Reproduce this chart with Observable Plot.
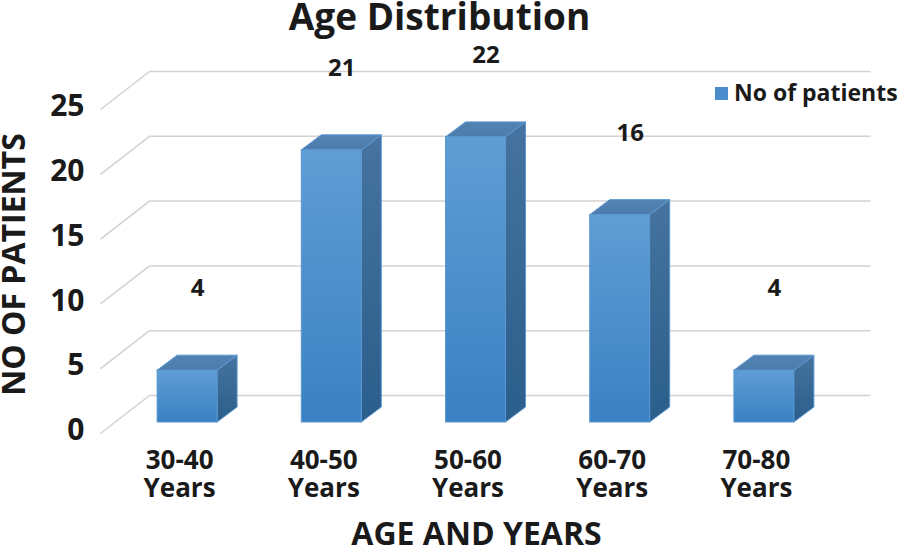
<!DOCTYPE html>
<html>
<head>
<meta charset="utf-8">
<script src="https://cdn.jsdelivr.net/npm/d3@7"></script>
<script src="https://cdn.jsdelivr.net/npm/@observablehq/plot@0.6"></script>
<style>
  html, body { margin: 0; padding: 0; background: #fff; }
  #wrap { position: relative; width: 904px; height: 548px; overflow: hidden; }
  #legend { position: absolute; left: 715px; top: 76px; display: flex; align-items: center;
    font-family: "Open Sans", sans-serif; font-weight: 700; font-size: 23px; color: #1a1a1a; white-space: nowrap; }
  #legend .sw { width: 13px; height: 13px; background: #4a8ccc; margin-right: 6px; margin-top: 2px; }
</style>
</head>
<body>
<div id="wrap">
  <div id="chart"></div>
  <div id="legend"><span class="sw"></span><span>No of patients</span></div>
</div>
<script>
// ---- data ----
const categories = ["30-40 Years", "40-50 Years", "50-60 Years", "60-70 Years", "70-80 Years"];
const values = [4, 21, 22, 16, 4];
const yTicks = [0, 5, 10, 15, 20, 25];
const seriesName = "No of patients";
const title = "Age Distribution";
const xTitle = "AGE AND YEARS";
const yTitle = "NO OF PATIENTS";

// ---- geometry (styling constants) ----
const W = 904, H = 548;
const xRange = [100, 821], yRange = [433, 109];
const pxX = (xRange[1] - xRange[0]) / categories.length;
const pxY = (yRange[0] - yRange[1]) / 25;
const ox = 15 / pxX, oy = 11 / pxY;       // bar offset from front plane
const bw = 60 / pxX;                       // bar width
const ddx = 20 / pxX, ddy = 15 / pxY;      // bar depth
const wx = 49 / pxX, wy = 38 / pxY;        // wall depth

const FRONT = "#4a8cca", SIDE = "#3a6a99", TOP = "#4f80b0", EDGE = "#5b98d0";

const bars = values.map((v, i) => ({
  i, v,
  xl: i + 0.5 + ox - bw / 2,
  xr: i + 0.5 + ox + bw / 2,
  y0: oy, y1: v + oy
}));
const sidePts = bars.flatMap(b => [
  {i: b.i, x: b.xr, lo: b.y0, hi: b.y1},
  {i: b.i, x: b.xr + ddx, lo: b.y0 + ddy, hi: b.y1 + ddy}
]);
const topPts = bars.flatMap(b => [
  {i: b.i, y: b.y1, l: b.xl, r: b.xr},
  {i: b.i, y: b.y1 + ddy, l: b.xl + ddx, r: b.xr + ddx}
]);

const font = "Open Sans, sans-serif";
const ink = "#1a1a1a";

const svg = Plot.plot({
  width: W, height: H,
  marginTop: 0, marginRight: 0, marginBottom: 0, marginLeft: 0,
  style: {background: "#fff", fontFamily: font},
  x: {domain: [0, categories.length], range: xRange, axis: null},
  y: {domain: [0, 25], range: yRange, axis: null},
  marks: [
    // floor/wall diagonals
    Plot.link(yTicks, {x1: 0, y1: d => d, x2: wx, y2: d => d + wy, stroke: "#d2d2d2", strokeWidth: 1.5}),
    // back wall gridlines
    Plot.link(yTicks, {x1: wx, y1: d => d + wy, x2: categories.length + wx, y2: d => d + wy, stroke: "#d2d2d2", strokeWidth: 1.5}),
    // bars: side, top, front
    Plot.area(sidePts, {x1: "x", y1: "lo", y2: "hi", z: "i", fill: SIDE, stroke: EDGE, strokeWidth: 1}),
    Plot.area(topPts, {y1: "y", x1: "l", x2: "r", z: "i", fill: TOP, stroke: EDGE, strokeWidth: 1}),
    Plot.rect(bars, {x1: "xl", x2: "xr", y1: "y0", y2: "y1", fill: FRONT, stroke: EDGE, strokeWidth: 1, inset: 0}),
    // value labels
    Plot.text(values, {x: (d, i) => i + 0.5 + ox + 10 / pxX, y: d => d + 7.2, text: d => String(d),
      fontSize: 24, fontWeight: 700, fill: ink}),
    // y tick labels
    Plot.text(yTicks, {frameAnchor: "left", y: d => d, text: d => String(d), textAnchor: "end",
      dx: 84, dy: -3, fontSize: 30, fontWeight: 700, fill: ink}),
    // category labels
    Plot.text(categories, {x: (d, i) => i + 0.5 + ox - 8 / pxX, frameAnchor: "bottom", dy: -99,
      text: d => d.replace(" ", "\n"), lineAnchor: "top", lineHeight: 1.06,
      fontSize: 26, fontWeight: 700, fill: ink}),
    // titles
    Plot.text([title], {frameAnchor: "top", dx: -13, dy: 3, lineAnchor: "top", fontSize: 37, fontWeight: 700, fill: ink}),
    Plot.text([xTitle], {frameAnchor: "bottom", dx: 24, dy: -4, lineAnchor: "bottom", fontSize: 32, fontWeight: 700, fill: ink}),
    Plot.text([yTitle], {frameAnchor: "left", rotate: -90, textAnchor: "middle", dx: 14, dy: -10, fontSize: 32, fontWeight: 700, fill: ink})
  ]
});

// gradients
const ns = "http://www.w3.org/2000/svg";
const defs = document.createElementNS(ns, "defs");
function grad(id, c0, c1) {
  const g = document.createElementNS(ns, "linearGradient");
  g.setAttribute("id", id); g.setAttribute("x1", 0); g.setAttribute("y1", 0); g.setAttribute("x2", 0); g.setAttribute("y2", 1);
  [[0, c0], [1, c1]].forEach(([o, c]) => {
    const s = document.createElementNS(ns, "stop");
    s.setAttribute("offset", o); s.setAttribute("stop-color", c);
    g.appendChild(s);
  });
  defs.appendChild(g);
}
grad("gFront", "#5f9dd4", "#3a81c3");
grad("gSide", "#46739f", "#2b5e8b");
grad("gTop", "#5283b3", "#4b7cab");
svg.insertBefore(defs, svg.firstChild);
const swap = {[FRONT]: "url(#gFront)", [SIDE]: "url(#gSide)", [TOP]: "url(#gTop)"};
svg.querySelectorAll("[fill]").forEach(el => {
  const f = el.getAttribute("fill");
  if (swap[f]) el.setAttribute("fill", swap[f]);
});

document.getElementById("chart").appendChild(svg);
</script>
</body>
</html>
